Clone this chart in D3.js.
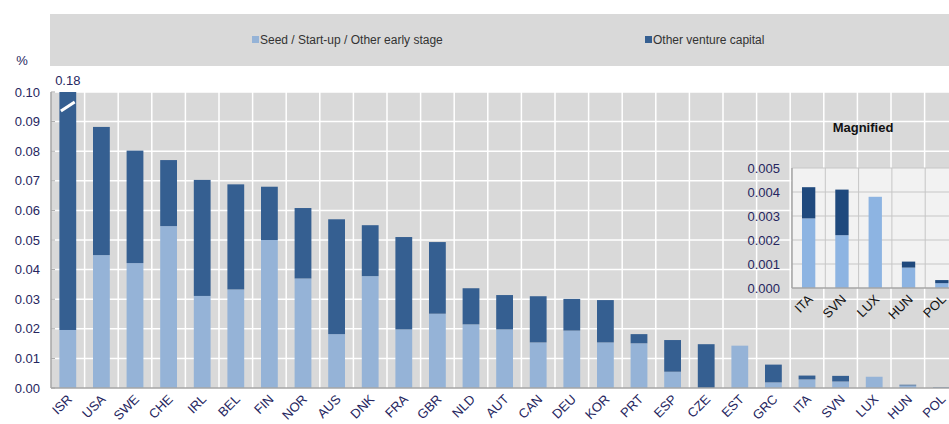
<!DOCTYPE html>
<html lang="en">
<head>
  <meta charset="UTF-8">
  <title>Venture capital investment</title>
  <script src="https://d3js.org/d3.v7.min.js"></script>
  <style>
    body { margin: 0; padding: 0; background: #fff; overflow: hidden; }
    svg { display: block; font-family: "Liberation Sans", Arial, sans-serif; }
    .tick-label { fill: #262660; font-size: 13px; }
  </style>
</head>
<body>
  <div id="chart"></div>
  <script>
    // countries, share of GDP (%)
    const countries = ['ISR', 'USA', 'SWE', 'CHE', 'IRL', 'BEL', 'FIN', 'NOR', 'AUS', 'DNK', 'FRA', 'GBR', 'NLD', 'AUT',
      'CAN', 'DEU', 'KOR', 'PRT', 'ESP', 'CZE', 'EST', 'GRC', 'ITA', 'SVN', 'LUX', 'HUN', 'POL'];
    const earlyStage = [0.0196, 0.0449, 0.0422, 0.0547, 0.0311, 0.0333, 0.0500, 0.0370, 0.0182, 0.0378, 0.0198, 0.0251, 0.0215, 0.0198,
      0.0154, 0.0194, 0.0154, 0.0151, 0.0055, 0.0000, 0.0143, 0.0019, 0.0029, 0.0022, 0.0038, 0.00085, 0.0002];
    const otherVC = [0.1604, 0.0433, 0.0380, 0.0223, 0.0392, 0.0355, 0.0180, 0.0238, 0.0388, 0.0172, 0.0312, 0.0242, 0.0122, 0.0116,
      0.0156, 0.0107, 0.0143, 0.0031, 0.0107, 0.0148, 0.0000, 0.0060, 0.0013, 0.0019, 0.0000, 0.00025, 0.00013];
    const yTicks = [0, 0.01, 0.02, 0.03, 0.04, 0.05, 0.06, 0.07, 0.08, 0.09, 0.10];

    // magnified inset
    const insetCountries = ['ITA', 'SVN', 'LUX', 'HUN', 'POL'];
    const insetEarly = [0.0029, 0.0022, 0.0038, 0.00085, 0.0002];
    const insetOther = [0.0013, 0.0019, 0.0000, 0.00025, 0.00013];
    const insetTicks = [0, 0.001, 0.002, 0.003, 0.004, 0.005];

    const width = 949, height = 424;
    const lightMain = '#95b3d7', darkMain = '#355f91';
    const lightInset = '#8db4e2', darkInset = '#1f497d';

    const svg = d3.select('#chart').append('svg')
      .attr('width', width).attr('height', height);

    // legend strip
    svg.append('rect').attr('x', 50).attr('y', 14).attr('width', width - 50).attr('height', 52).attr('fill', '#d9d9d9');
    const legend = [
      { label: 'Seed / Start-up / Other early stage', color: lightMain, x: 252 },
      { label: 'Other venture capital', color: darkMain, x: 645 }
    ];
    legend.forEach(l => {
      svg.append('rect').attr('x', l.x).attr('y', 36).attr('width', 7).attr('height', 7).attr('fill', l.color);
      svg.append('text').attr('x', l.x + 8).attr('y', 44).attr('font-size', '12px').attr('fill', '#333')
        .text(l.label);
    });

    const pLeft = 51, pTop = 92, pBottom = 388;
    const x = d3.scaleBand().domain(countries)
      .range([pLeft, pLeft + countries.length * 33.6])
      .paddingInner(0.5).paddingOuter(0.25);
    const y = d3.scaleLinear().domain([0, 0.10]).range([pBottom, pTop]);

    svg.append('rect').attr('x', pLeft).attr('y', pTop).attr('width', width - pLeft).attr('height', pBottom - pTop)
      .attr('fill', '#d9d9d9');

    // grid
    svg.append('g').selectAll('line').data(yTicks.slice(1)).join('line')
      .attr('x1', pLeft).attr('x2', width).attr('y1', d => y(d)).attr('y2', d => y(d))
      .attr('stroke', '#fff').attr('stroke-width', 1.5);
    svg.append('g').selectAll('line').data(countries.slice(1)).join('line')
      .attr('x1', d => x(d) - x.step() * 0.25).attr('x2', d => x(d) - x.step() * 0.25)
      .attr('y1', pTop).attr('y2', pBottom)
      .attr('stroke', '#fff').attr('stroke-width', 1.5);

    const data = countries.map((c, i) => ({ c, a: earlyStage[i], b: otherVC[i] }));
    const clip = v => Math.min(v, 0.10);

    svg.append('g').selectAll('rect').data(data).join('rect')
      .attr('x', d => x(d.c)).attr('width', x.bandwidth())
      .attr('y', d => y(clip(d.a))).attr('height', d => pBottom - y(clip(d.a)))
      .attr('fill', lightMain);
    svg.append('g').selectAll('rect').data(data).join('rect')
      .attr('x', d => x(d.c)).attr('width', x.bandwidth())
      .attr('y', d => y(clip(d.a + d.b))).attr('height', d => y(clip(d.a)) - y(clip(d.a + d.b)))
      .attr('fill', darkMain);

    // break mark on the truncated bar
    const isr = data[0];
    svg.append('line')
      .attr('x1', x(isr.c) + 1.5).attr('x2', x(isr.c) + x.bandwidth() - 1.5)
      .attr('y1', y(0.0946) + 3).attr('y2', y(0.0946) - 6)
      .attr('stroke', '#fff').attr('stroke-width', 3);
    svg.append('text').attr('class', 'tick-label')
      .attr('x', x(isr.c) + x.bandwidth() / 2).attr('y', pTop - 7).attr('text-anchor', 'middle')
      .text(d3.format('.2f')(isr.a + isr.b));

    // axes lines
    svg.append('line').attr('x1', pLeft).attr('x2', pLeft).attr('y1', pTop).attr('y2', pBottom)
      .attr('stroke', '#a6a6a6').attr('stroke-width', 1.5);
    svg.append('line').attr('x1', pLeft).attr('x2', width).attr('y1', pBottom).attr('y2', pBottom)
      .attr('stroke', '#a6a6a6').attr('stroke-width', 1.5);
    svg.append('g').selectAll('line').data(yTicks).join('line')
      .attr('x1', pLeft).attr('x2', pLeft + 4).attr('y1', d => y(d)).attr('y2', d => y(d))
      .attr('stroke', '#a6a6a6');

    svg.append('g').selectAll('text').data(yTicks).join('text')
      .attr('class', 'tick-label')
      .attr('x', 40).attr('y', d => y(d)).attr('dy', '0.36em').attr('text-anchor', 'end')
      .text(d3.format('.2f'));
    svg.append('text').attr('class', 'tick-label').attr('x', 22).attr('y', 65).attr('text-anchor', 'middle').text('%');

    svg.append('g').selectAll('text').data(countries).join('text')
      .attr('class', 'tick-label')
      .attr('text-anchor', 'end')
      .attr('transform', d => `translate(${x(d) + x.bandwidth() / 2 + 5},${pBottom + 12}) rotate(-45)`)
      .text(d => d);

    // ---- magnified inset ----
    const iLeft = 792, iTop = 168, iBottom = 288;
    const xi = d3.scaleBand().domain(insetCountries)
      .range([iLeft, iLeft + insetCountries.length * 33.3])
      .paddingInner(0.6).paddingOuter(0.3);
    const yi = d3.scaleLinear().domain([0, 0.005]).range([iBottom, iTop]);

    svg.append('rect').attr('x', iLeft).attr('y', iTop).attr('width', width - iLeft).attr('height', iBottom - iTop)
      .attr('fill', '#f2f2f2');
    svg.append('g').selectAll('line').data(insetTicks.slice(1)).join('line')
      .attr('x1', iLeft).attr('x2', width).attr('y1', d => yi(d)).attr('y2', d => yi(d))
      .attr('stroke', '#c6c6c6');
    svg.append('g').selectAll('line').data(insetCountries.slice(1)).join('line')
      .attr('x1', d => xi(d) - xi.step() * 0.3).attr('x2', d => xi(d) - xi.step() * 0.3)
      .attr('y1', iTop).attr('y2', iBottom)
      .attr('stroke', '#c6c6c6');

    const idata = insetCountries.map((c, i) => ({ c, a: insetEarly[i], b: insetOther[i] }));
    svg.append('g').selectAll('rect').data(idata).join('rect')
      .attr('x', d => xi(d.c)).attr('width', xi.bandwidth())
      .attr('y', d => yi(d.a)).attr('height', d => iBottom - yi(d.a))
      .attr('fill', lightInset);
    svg.append('g').selectAll('rect').data(idata).join('rect')
      .attr('x', d => xi(d.c)).attr('width', xi.bandwidth())
      .attr('y', d => yi(d.a + d.b)).attr('height', d => yi(d.a) - yi(d.a + d.b))
      .attr('fill', darkInset);

    svg.append('line').attr('x1', iLeft).attr('x2', iLeft).attr('y1', iTop).attr('y2', iBottom)
      .attr('stroke', '#a6a6a6').attr('stroke-width', 1.5);
    svg.append('line').attr('x1', iLeft).attr('x2', width).attr('y1', iBottom).attr('y2', iBottom)
      .attr('stroke', '#a6a6a6').attr('stroke-width', 1.5);

    svg.append('g').selectAll('text').data(insetTicks).join('text')
      .attr('class', 'tick-label')
      .attr('x', 780).attr('y', d => yi(d)).attr('dy', '0.36em').attr('text-anchor', 'end')
      .text(d3.format('.3f'));
    svg.append('g').selectAll('text').data(insetCountries).join('text')
      .attr('font-size', '13px')
      .style('fill', '#111')
      .attr('text-anchor', 'end')
      .attr('transform', d => `translate(${xi(d) + xi.bandwidth() / 2 + 5},${iBottom + 12}) rotate(-45)`)
      .text(d => d);

    svg.append('text').attr('x', 863).attr('y', 132).attr('text-anchor', 'middle')
      .attr('font-size', '13px').attr('font-weight', 'bold').attr('fill', '#111')
      .text('Magnified');
  </script>
</body>
</html>
